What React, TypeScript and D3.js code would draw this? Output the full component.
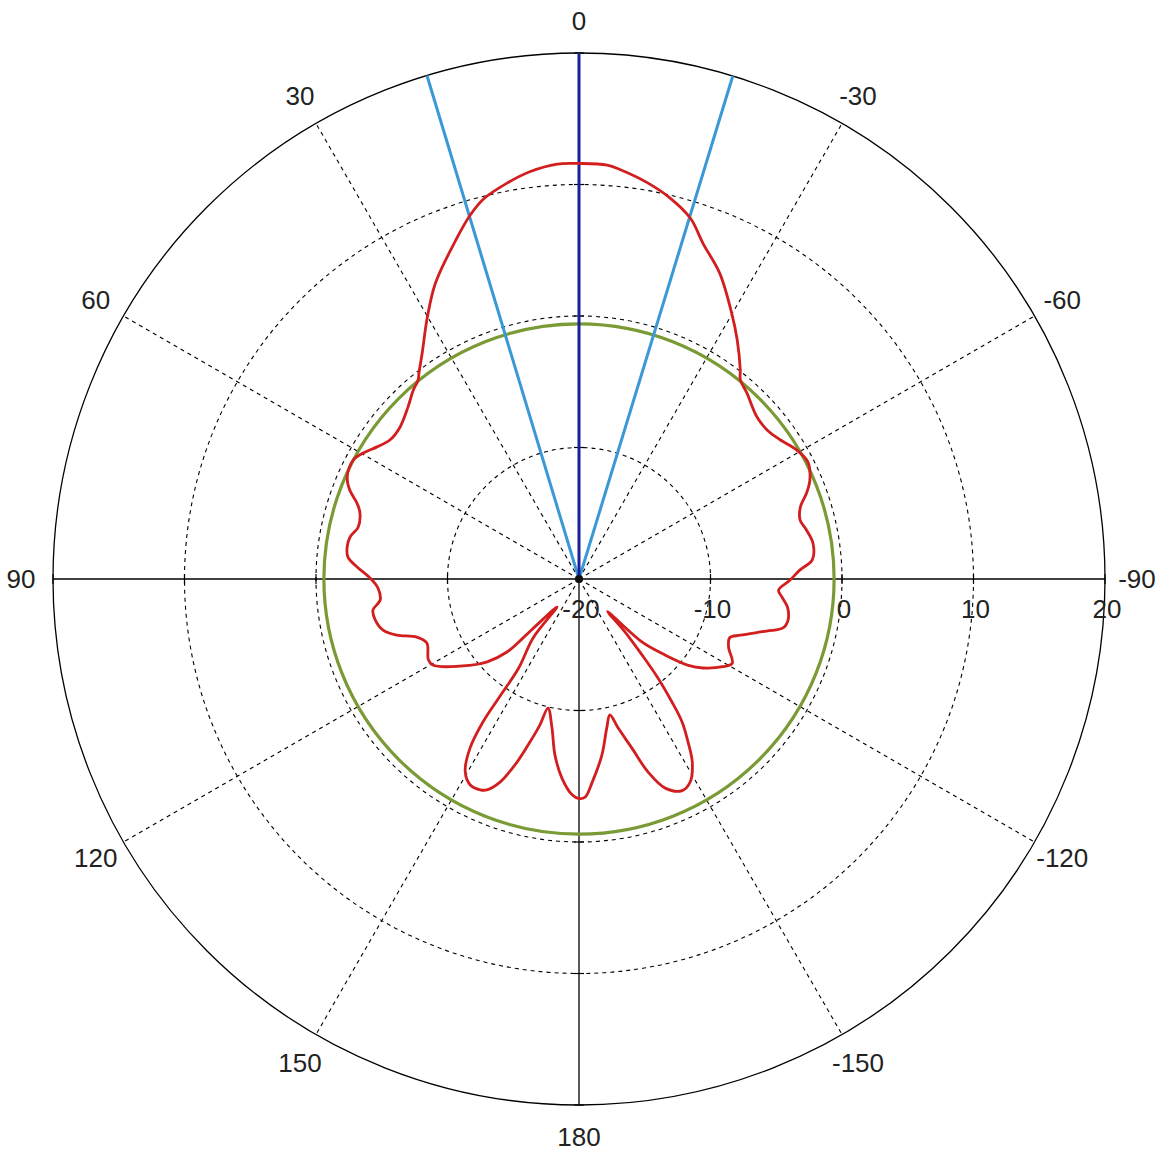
import React, { useEffect, useRef } from "react";
import * as d3 from "d3";

// angle in degrees, counter-clockwise from the top (30 is upper-left), gain in dB
const patternAngles = [
  -180, -178.4, -176.3, -172.6, -169.4, -167.2, -165.3, -162.6, -160.3, -157.6,
  -154.0, -151.3, -148.3, -146.2, -144.2, -142.9, -141.4, -140.3, -139.0, -138.7,
  -135.0, -131.5, -128.3, -125.7, -121.4, -118.8, -114.5, -111.3, -109.2, -105.5,
  -103.5, -101.1, -97.7, -95.1, -93.2, -90.3, -87.7, -85.3, -81.3, -77.9,
  -75.1, -72.0, -69.3, -66.8, -62.9, -59.4, -55.3, -51.6, -47.7, -42.1,
  -39.0, -37.6, -33.5, -29.9, -24.7, -20.3, -17.2, -13.4, -9.7, -5.7,
  -3.9, 0, 3.0, 6.9, 10.3, 14.1, 16.6, 19.8, 25.9, 30.1,
  34.8, 37.8, 39.0, 41.3, 44.8, 49.7, 53.7, 56.8, 59.7, 62.2,
  66.3, 68.8, 71.1, 73.2, 76.8, 79.6, 82.1, 84.6, 86.9, 89.7,
  92.6, 96.0, 98.6, 101.4, 104.6, 107.1, 109.7, 112.8, 118.2, 120.5,
  128.3, 132.1, 135.4, 136.5, 137.8, 141.8, 142.1, 145.9, 146.0, 146.1,
  147.2, 149.4, 152.1, 154.9, 156.4, 158.7, 161.3, 163.3, 165.0, 166.5,
  169.7, 172.2, 175.1, 178.1,
];
const patternGain = [
  -3.3, -3.4, -4.5, -6.5, -8.5, -9.4, -8.3, -6.5, -4.4, -2.8,
  -2.1, -2.4, -3.6, -5.1, -6.6, -8.3, -10.4, -12.5, -14.7, -16.7,
  -13.2, -11.3, -9.4, -8.4, -7.2, -6.7, -7.5, -7.7, -7.0, -5.2,
  -4.05, -3.8, -4.0, -4.5, -4.8, -3.95, -3.2, -2.2, -2.0, -2.3,
  -2.6, -2.3, -1.5, -0.9, -0.45, -0.75, -1.4, -1.75, -1.7, -0.95,
  -0.5, 0.1, 1.8, 3.3, 5.6, 7.2, 8.7, 9.8, 10.6, 11.3,
  11.55, 11.6, 11.6, 11.2, 10.6, 9.8, 8.9, 7.5, 5.0, 3.0,
  0.9, -0.15, -0.55, -0.9, -1.55, -2.15, -2.15, -1.65, -1.0, -0.6,
  -0.75, -1.3, -2.15, -2.6, -2.75, -2.3, -2.2, -2.35, -3.1, -4.1,
  -4.7, -4.8, -4.15, -4.2, -4.6, -5.5, -6.9, -7.45, -7.0, -7.1,
  -9.4, -10.6, -12.2, -13.8, -15.6, -17.3, -14.3, -11.8, -9.3, -6.9,
  -4.7, -3.0, -2.3, -2.3, -2.5, -3.4, -5.3, -7.1, -8.5, -9.9,
  -8.5, -6.5, -4.8, -3.6,
];

const mainBeamAngle = 0;
const beamEdgeAngles = [16.8, -17.0];
const minGainLevel = -0.6;

const angleTicks = [0, 30, 60, 90, 120, 150, 180, -150, -120, -90, -60, -30];
const angleTickLabels = ["0", "30", "60", "90", "120", "150", "180", "-150", "-120", "-90", "-60", "-30"];
const radialTicks = [-20, -10, 0, 10, 20];
const radialTickLabels = ["-20", "-10", "0", "10", "20"];

const App = () => {
  const ref = useRef(null);

  useEffect(() => {
    const width = 1167;
    const height = 1151;
    const cx = 579;
    const cy = 579;
    const outer = 526;

    const svg = d3.select(ref.current);
    svg.selectAll("*").remove();
    svg
      .attr("width", width)
      .attr("height", height)
      .attr("viewBox", [0, 0, width, height])
      .style("position", "absolute")
      .style("left", 0)
      .style("top", 0)
      .style("background", "#fff");

    const r = d3.scaleLinear().domain([-20, 20]).range([0, outer]);
    const rad = (deg) => (deg * Math.PI) / 180;
    const px = (deg, rr) => -rr * Math.sin(rad(deg));
    const py = (deg, rr) => -rr * Math.cos(rad(deg));

    const g = svg.append("g").attr("transform", `translate(${cx},${cy})`);

    // dashed rings
    g.append("g")
      .selectAll("circle")
      .data(radialTicks.slice(1, -1))
      .join("circle")
      .attr("r", (d) => r(d))
      .attr("fill", "none")
      .attr("stroke", "#000")
      .attr("stroke-width", 1.1)
      .attr("stroke-dasharray", "4,4");

    // dashed spokes
    g.append("g")
      .selectAll("line")
      .data(angleTicks.filter((a) => a % 90 !== 0))
      .join("line")
      .attr("x1", 0)
      .attr("y1", 0)
      .attr("x2", (d) => px(d, outer))
      .attr("y2", (d) => py(d, outer))
      .attr("stroke", "#000")
      .attr("stroke-width", 1.1)
      .attr("stroke-dasharray", "4,4");

    // solid axes
    g.append("g")
      .selectAll("line")
      .data([0, 90])
      .join("line")
      .attr("x1", (d) => px(d, outer))
      .attr("y1", (d) => py(d, outer))
      .attr("x2", (d) => px(d + 180, outer))
      .attr("y2", (d) => py(d + 180, outer))
      .attr("stroke", "#000")
      .attr("stroke-width", 1.3);

    // outer circle
    g.append("circle")
      .attr("r", outer)
      .attr("fill", "none")
      .attr("stroke", "#000")
      .attr("stroke-width", 1.3);

    // small ticks on the axes
    const ticks = g.append("g").attr("stroke", "#000").attr("stroke-width", 1.2);
    [0, 90, 180, -90].forEach((a) => {
      radialTicks.slice(1).forEach((v) => {
        const rr = r(v);
        const x = px(a, rr);
        const y = py(a, rr);
        const tx = Math.cos(rad(a)) * 5;
        const ty = -Math.sin(rad(a)) * 5;
        ticks
          .append("line")
          .attr("x1", x - tx)
          .attr("y1", y - ty)
          .attr("x2", x + tx)
          .attr("y2", y + ty);
      });
    });

    // angle labels
    g.append("g")
      .attr("font-family", "'Liberation Sans', Arial, sans-serif")
      .attr("font-size", 26)
      .attr("fill", "#222")
      .attr("text-anchor", "middle")
      .selectAll("text")
      .data(angleTicks)
      .join("text")
      .attr("x", (d) => px(d, 558))
      .attr("y", (d) => py(d, 558))
      .attr("dy", "0.36em")
      .text((d, i) => angleTickLabels[i]);

    // radial labels
    g.append("g")
      .attr("font-family", "'Liberation Sans', Arial, sans-serif")
      .attr("font-size", 26)
      .attr("fill", "#222")
      .attr("text-anchor", "middle")
      .selectAll("text")
      .data(radialTicks)
      .join("text")
      .attr("x", (d) => r(d) + 2)
      .attr("y", 39)
      .text((d, i) => radialTickLabels[i]);

    // minimum gain circle
    g.append("circle")
      .attr("r", r(minGainLevel))
      .attr("fill", "none")
      .attr("stroke", "#7a9a35")
      .attr("stroke-width", 3.2);

    // beam edge lines
    g.append("g")
      .selectAll("line")
      .data(beamEdgeAngles)
      .join("line")
      .attr("x1", 0)
      .attr("y1", 0)
      .attr("x2", (d) => px(d, outer))
      .attr("y2", (d) => py(d, outer))
      .attr("stroke", "#3a98d6")
      .attr("stroke-width", 3);

    g.append("line")
      .attr("x1", 0)
      .attr("y1", 0)
      .attr("x2", px(mainBeamAngle, outer))
      .attr("y2", py(mainBeamAngle, outer))
      .attr("stroke", "#1c1f9c")
      .attr("stroke-width", 3);

    // radiation pattern
    const pts = patternAngles.map((a, i) => [a, patternGain[i]]);
    const line = d3
      .lineRadial()
      .angle((d) => rad(-d[0]))
      .radius((d) => r(d[1]))
      .curve(d3.curveCatmullRomClosed.alpha(0.5));

    g.append("path")
      .datum(pts)
      .attr("d", line)
      .attr("fill", "none")
      .attr("stroke", "#d21e1e")
      .attr("stroke-width", 2.8)
      .attr("stroke-linejoin", "round");

    g.append("circle").attr("r", 4).attr("fill", "#111");
  }, []);

  return <svg ref={ref} />;
};

export default App;
